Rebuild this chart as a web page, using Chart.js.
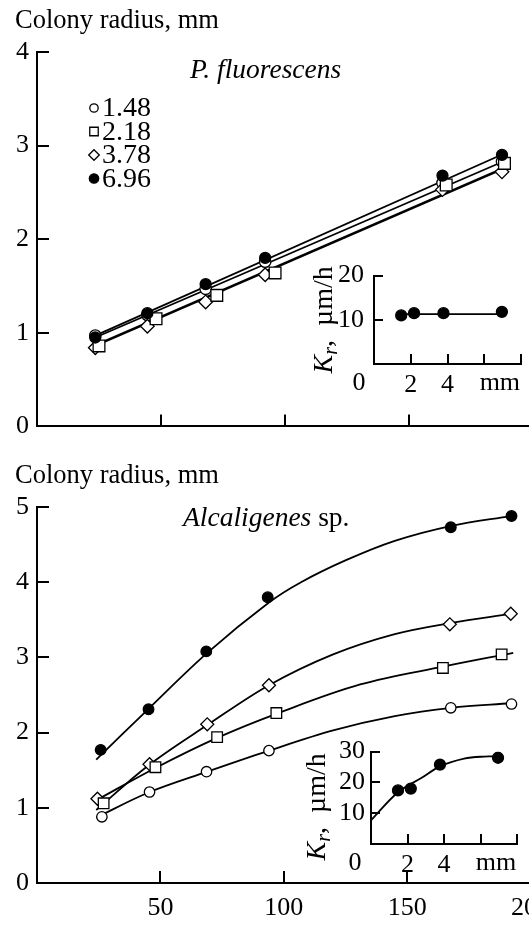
<!DOCTYPE html>
<html lang="en">
<head>
<meta charset="UTF-8">
<title>Colony radius</title>
<script src="https://cdn.jsdelivr.net/npm/chart.js@4.4.0/dist/chart.umd.min.js"></script>
<style>
    html, body { margin: 0; padding: 0; background: #fff; }
    #wrap { position: relative; width: 529px; height: 942px; overflow: hidden; background: #fff; }
    canvas { position: absolute; }
</style>
</head>
<body>
<div id="wrap">
    <canvas id="topChart" width="560" height="450" style="left:0;top:0"></canvas>
    <canvas id="botChart" width="560" height="492" style="left:0;top:450px"></canvas>
    <canvas id="topInset" width="229" height="150" style="left:300px;top:250px"></canvas>
    <canvas id="botInset" width="229" height="150" style="left:300px;top:730px"></canvas>
</div>

<script>
    // legend: inoculum values
    var legendLabels = ['1.48', '2.18', '3.78', '6.96'];

    // P. fluorescens (top panel), time h / radius mm
    var pfTime = [23.5, 44.5, 68, 92, 163.5, 187.5];
    var pfSquareTime = [25, 48, 72.5, 96, 165, 188.5];
    var pfFilled = [0.95, 1.21, 1.52, 1.80, 2.68, 2.90];
    var pfOpen = [0.97, 1.19, 1.47, 1.76, 2.60, 2.83];
    var pfSquare = [0.86, 1.15, 1.40, 1.64, 2.58, 2.81];
    var pfDiamond = [0.84, 1.07, 1.33, 1.62, 2.53, 2.72];
    // straight fit lines (ends)
    var pfFitTime = [23.5, 188];
    var pfFitFilled = [0.97, 2.91];
    var pfFitOpen = [0.95, 2.83];
    var pfFitSquare = [0.87, 2.76];
    var pfFitDiamond = [0.86, 2.75];

    // Alcaligenes sp. (bottom panel)
    var alFilledTime = [25.8, 45.2, 68.6, 93.5, 167.7, 192.3];
    var alFilled = [1.77, 2.31, 3.08, 3.80, 4.73, 4.88];
    var alOpenTime = [26.3, 45.6, 68.7, 94, 167.7, 192.3];
    var alOpen = [0.88, 1.21, 1.48, 1.76, 2.33, 2.38];
    var alSquareTime = [27, 48, 73, 97, 164.5, 188.3];
    var alSquare = [1.06, 1.54, 1.94, 2.26, 2.86, 3.04];
    var alDiamondTime = [24.5, 45.6, 69, 94, 167.3, 192];
    var alDiamond = [1.12, 1.58, 2.11, 2.63, 3.44, 3.58];
    // fitted curves
    var alCurveFilledTime = [24, 45, 69, 94, 107, 125, 145, 168, 192];
    var alCurveFilled = [1.64, 2.31, 3.06, 3.73, 4.00, 4.29, 4.55, 4.75, 4.88];
    var alCurveTime = [24, 45, 69, 94, 120, 145, 168, 192];
    var alCurveDiamond = [0.97, 1.56, 2.10, 2.63, 3.04, 3.31, 3.46, 3.58];
    var alCurveOpen = [0.87, 1.20, 1.48, 1.76, 2.03, 2.22, 2.33, 2.39];
    var alCurveSquareTime = [24, 48, 73, 97, 131, 165, 193];
    var alCurveSquare = [1.10, 1.53, 1.93, 2.25, 2.64, 2.88, 3.06];

    // insets: Kr (um/h) vs inoculum (mm)
    var kInoc = [1.48, 2.18, 3.78, 6.96];
    var kPf = [11.0, 11.5, 11.5, 11.8];
    var kPfFitX = [1.48, 6.96];
    var kPfFit = [11.3, 11.3];
    var kAl = [17.4, 18.0, 25.8, 28.0];
    var kAlCurveX = [0, 1.48, 2.8, 3.78, 5.1, 6.2, 6.9];
    var kAlCurve = [7.7, 16.8, 21.6, 25.2, 27.7, 28.4, 28.4];

    var SERIF = '"Liberation Serif", "Times New Roman", serif';
    Chart.defaults.font.family = SERIF;
    Chart.defaults.font.size = 26;
    Chart.defaults.color = '#000';

    function toXY(xs, ys) {
        var out = [];
        for (var i = 0; i < xs.length; i++) out.push({x: xs[i], y: ys[i]});
        return out;
    }

    function markers(xs, ys, style, r, fill) {
        return {
            data: toXY(xs, ys), showLine: false,
            pointStyle: style, pointRadius: r,
            pointBackgroundColor: fill, pointBorderColor: '#000', pointBorderWidth: 1.3
        };
    }

    function fitLine(xs, ys, curved) {
        return {
            data: toXY(xs, ys), showLine: true, fill: false,
            borderColor: '#000', borderWidth: 1.8, pointRadius: 0,
            tension: curved ? 0.35 : 0
        };
    }

    // ticks pointing into the plot
    var inwardTicks = {
        id: 'inwardTicks',
        afterDraw: function (chart, args, opts) {
            var ctx = chart.ctx, area = chart.chartArea;
            var sx = chart.scales.x, sy = chart.scales.y;
            ctx.save();
            ctx.strokeStyle = '#000';
            ctx.lineWidth = 2;
            sx.ticks.forEach(function (t) {
                if (t.value === sx.min) return;
                var px = Math.round(sx.getPixelForValue(t.value));
                ctx.beginPath();
                ctx.moveTo(px, area.bottom);
                ctx.lineTo(px, area.bottom - opts.xLen);
                ctx.stroke();
            });
            sy.ticks.forEach(function (t) {
                if (t.value === sy.min) return;
                var py = Math.round(sy.getPixelForValue(t.value));
                ctx.beginPath();
                ctx.moveTo(area.left, py);
                ctx.lineTo(area.left + opts.yLen, py);
                ctx.stroke();
            });
            ctx.restore();
        }
    };

    function axisOpts(min, max, step, showLabels, pad, size, hideZero) {
        return {
            type: 'linear', min: min, max: max,
            grid: {display: false, drawTicks: false},
            border: {display: true, color: '#000', width: 2},
            ticks: {
                stepSize: step, display: showLabels, padding: pad, autoSkip: false,
                callback: function (v) { return (hideZero && v === 0) ? '' : String(v); }
            },
            afterFit: function (scale) {
                if (scale.isHorizontal()) scale.height = size; else scale.width = size;
            }
        };
    }

    function baseOptions(padding, xScale, yScale, ticks) {
        return {
            responsive: false, animation: false, events: [],
            layout: {padding: padding},
            plugins: {legend: {display: false}, tooltip: {enabled: false}, inwardTicks: ticks},
            scales: {x: xScale, y: yScale}
        };
    }

    // ---------- top panel ----------
    new Chart(document.getElementById('topChart'), {
        type: 'scatter',
        data: {
            datasets: [
                markers(pfTime, pfFilled, 'circle', 5.5, '#000'),
                markers(pfSquareTime, pfSquare, 'rect', 8.3, '#fff'),
                markers(pfTime, pfDiamond, 'rectRot', 6.8, '#fff'),
                markers(pfTime, pfOpen, 'circle', 5.7, '#fff'),
                fitLine(pfFitTime, pfFitFilled),
                fitLine(pfFitTime, pfFitOpen),
                fitLine(pfFitTime, pfFitSquare),
                fitLine(pfFitTime, pfFitDiamond)
            ]
        },
        options: baseOptions({top: 52, left: 0, right: 27, bottom: 23},
            axisOpts(0, 200, 50, false, 0, 0, true),
            axisOpts(0, 4, 1, true, 8, 37, false),
            {xLen: 12, yLen: 12}),
        plugins: [inwardTicks, {
            id: 'topText',
            afterDraw: function (chart) {
                var ctx = chart.ctx;
                ctx.save();
                ctx.fillStyle = '#000';
                ctx.textBaseline = 'alphabetic';
                ctx.font = '26.5px ' + SERIF;
                ctx.fillText('Colony radius, mm', 15, 28);
                ctx.font = 'italic 27.5px ' + SERIF;
                ctx.fillText('P. fluorescens', 190, 78);
                // legend
                var styles = [['circle', 4.2, '#fff'], ['rect', 6, '#fff'], ['rectRot', 5.3, '#fff'], ['circle', 4.7, '#000']];
                ctx.font = '28px ' + SERIF;
                ctx.textBaseline = 'middle';
                for (var i = 0; i < legendLabels.length; i++) {
                    var y = 108 + i * 23.5;
                    ctx.fillStyle = styles[i][2];
                    ctx.strokeStyle = '#000';
                    ctx.lineWidth = 1.3;
                    Chart.helpers.drawPoint(ctx, {pointStyle: styles[i][0], radius: styles[i][1], borderWidth: 1.3, rotation: 0}, 94, y);
                    ctx.fillStyle = '#000';
                    ctx.fillText(legendLabels[i], 102, y + 1);
                }
                ctx.restore();
            }
        }]
    });

    // ---------- bottom panel ----------
    new Chart(document.getElementById('botChart'), {
        type: 'scatter',
        data: {
            datasets: [
                markers(alFilledTime, alFilled, 'circle', 5.3, '#000'),
                markers(alSquareTime, alSquare, 'rect', 7.5, '#fff'),
                markers(alDiamondTime, alDiamond, 'rectRot', 6.5, '#fff'),
                markers(alOpenTime, alOpen, 'circle', 5.2, '#fff'),
                fitLine(alCurveFilledTime, alCurveFilled, true),
                fitLine(alCurveTime, alCurveDiamond, true),
                fitLine(alCurveSquareTime, alCurveSquare, true),
                fitLine(alCurveTime, alCurveOpen, true)
            ]
        },
        options: baseOptions({top: 57, left: 0, right: 27, bottom: 0},
            axisOpts(0, 200, 50, true, 10, 59, true),
            axisOpts(0, 5, 1, true, 8, 37, false),
            {xLen: 12, yLen: 12}),
        plugins: [inwardTicks, {
            id: 'botText',
            afterDraw: function (chart) {
                var ctx = chart.ctx;
                ctx.save();
                ctx.fillStyle = '#000';
                ctx.textBaseline = 'alphabetic';
                ctx.font = '26.5px ' + SERIF;
                ctx.fillText('Colony radius, mm', 15, 33);
                ctx.font = 'italic 27.5px ' + SERIF;
                var w = ctx.measureText('Alcaligenes').width;
                ctx.fillText('Alcaligenes', 183, 76);
                ctx.font = '27.5px ' + SERIF;
                ctx.fillText(' sp.', 183 + w, 76);
                ctx.restore();
            }
        }]
    });

    // ---------- insets ----------
    function insetText(cx, zeroDx, dy) {
        return {
            id: 'insetText',
            afterDraw: function (chart) {
                var ctx = chart.ctx, area = chart.chartArea, sx = chart.scales.x;
                ctx.save();
                ctx.fillStyle = '#000';
                ctx.textAlign = 'center';
                ctx.textBaseline = 'middle';
                ctx.font = '26px ' + SERIF;
                ctx.fillText('0', area.left - zeroDx, area.bottom + 19);
                ctx.fillText('mm', sx.getPixelForValue(6.85), area.bottom + 19);
                // rotated axis title  K_r, um/h
                var cy = (area.top + area.bottom) / 2 + dy;
                ctx.translate(cx, cy);
                ctx.rotate(-Math.PI / 2);
                ctx.textAlign = 'left';
                ctx.textBaseline = 'alphabetic';
                var fK = 'italic 28px ' + SERIF, fr = 'italic 20px ' + SERIF, fn = '28px ' + SERIF;
                ctx.font = fK; var wK = ctx.measureText('K').width;
                ctx.font = fr; var wr = ctx.measureText('r').width;
                ctx.font = fn; var wn = ctx.measureText(',  \u00b5m/h').width;
                var x0 = -(wK + wr + wn) / 2, base = 10;
                ctx.font = fK; ctx.fillText('K', x0, base);
                ctx.font = fr; ctx.fillText('r', x0 + wK, base + 5);
                ctx.font = fn; ctx.fillText(',  \u00b5m/h', x0 + wK + wr, base);
                ctx.restore();
            }
        };
    }

    function insetX() {
        return {
            type: 'linear', min: 0, max: 8,
            grid: {display: false, drawTicks: false},
            border: {display: true, color: '#000', width: 2},
            ticks: {
                stepSize: 2, padding: 6, autoSkip: false,
                callback: function (v) { return (v === 2 || v === 4) ? String(v) : ''; }
            },
            afterFit: function (scale) { scale.height = 36; }
        };
    }

    new Chart(document.getElementById('topInset'), {
        type: 'scatter',
        data: {
            datasets: [
                markers(kInoc, kPf, 'circle', 5.5, '#000'),
                fitLine(kPfFitX, kPfFit)
            ]
        },
        options: baseOptions({top: 21, left: 0, right: 8, bottom: 0},
            insetX(),
            axisOpts(0, 20, 10, true, 10, 74, true),
            {xLen: 10, yLen: 9}),
        plugins: [inwardTicks, insetText(22, 15, 0)]
    });

    new Chart(document.getElementById('botInset'), {
        type: 'scatter',
        data: {
            datasets: [
                markers(kInoc, kAl, 'circle', 5.5, '#000'),
                fitLine(kAlCurveX, kAlCurve, true)
            ]
        },
        options: baseOptions({top: 21, left: 0, right: 12, bottom: 0},
            insetX(),
            axisOpts(0, 30, 10, true, 6, 71, true),
            {xLen: 10, yLen: 9}),
        plugins: [inwardTicks, insetText(15, 16, 9)]
    });
</script>
</body>
</html>
